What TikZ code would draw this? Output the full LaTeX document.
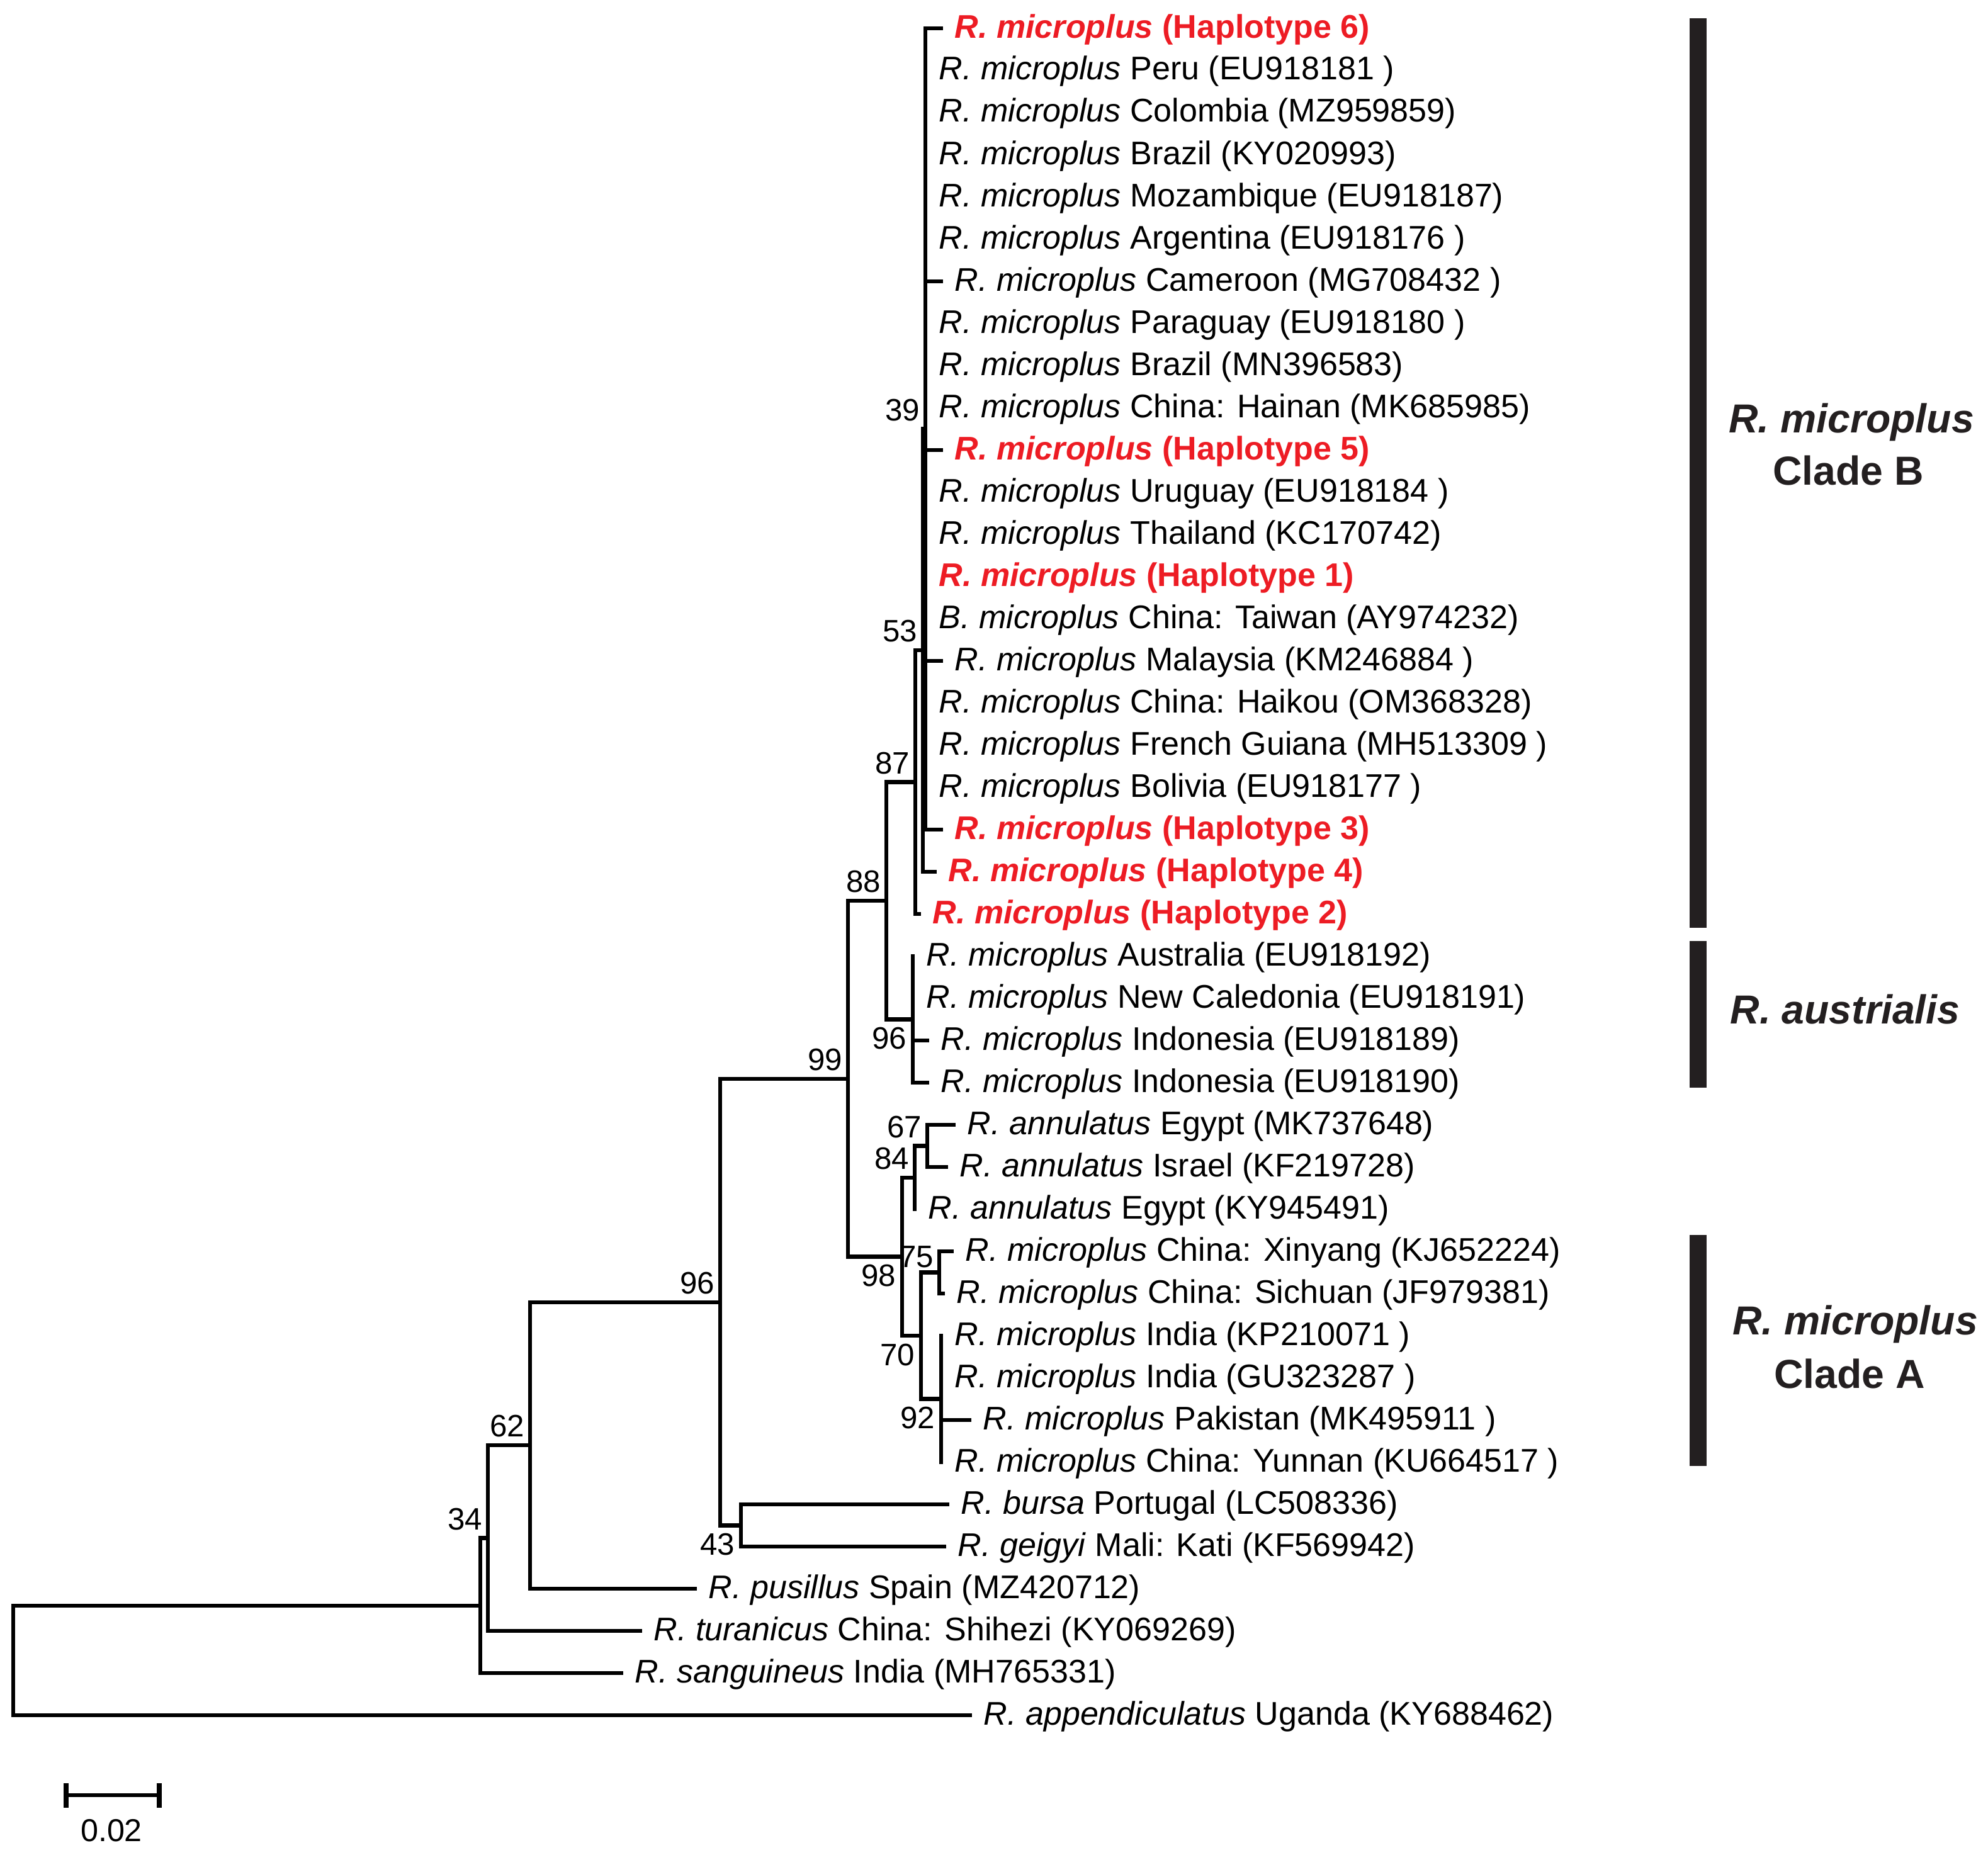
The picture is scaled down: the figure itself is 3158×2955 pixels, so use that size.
\documentclass[tikz,border=0pt]{standalone}
\usepackage{fontspec}
\setmainfont{Liberation Sans}
\usepackage{tikz}
\definecolor{hapred}{RGB}{237,28,36}
\definecolor{bardark}{RGB}{35,31,32}
\newcommand{\taxa}[2]{\textit{#1} #2}
\newcommand{\hap}[1]{\textcolor{hapred}{\bfseries\textit{R. microplus} (Haplotype #1)}}
\tikzset{
  branch/.style={line width=1.8pt, line cap=rect},
  leaf/.style={anchor=base west, inner sep=0pt, xshift=0.21cm, yshift=-0.15cm, font=\fontsize{14.8}{17}\selectfont},
  boot/.style={inner sep=0pt, font=\fontsize{14}{16}\selectfont},
  bsup/.style={boot, anchor=south east, xshift=-0.08cm, yshift=0.12cm},
  bsdown/.style={boot, anchor=north east, xshift=-0.09cm, yshift=-0.12cm},
  cladelab/.style={anchor=base, inner sep=0pt, text=bardark, font=\fontsize{18.3}{22}\selectfont\bfseries}
}

\begin{document}
\begin{tikzpicture}[x=0.01cm, y=-0.01cm]
			%%%%% START %%%%%
			\useasboundingbox (0,0) rectangle (3158,2955);
			
			% internal nodes
			\coordinate (n39) at (1470,681.5);
			\coordinate (n53) at (1466,1033);
			\coordinate (n87) at (1454,1242.5);
			\coordinate (n96a) at (1450,1619.5);
			\coordinate (n88) at (1408,1431);
			\coordinate (n67) at (1473,1820.5);
			\coordinate (n84) at (1453,1871);
			\coordinate (n75) at (1492,2021.5);
			\coordinate (n92) at (1495,2222.5);
			\coordinate (n70) at (1463,2122);
			\coordinate (n98) at (1433,1996.5);
			\coordinate (n99) at (1347,1714);
			\coordinate (n43) at (1177,2423.5);
			\coordinate (n96) at (1144,2068.75);
			\coordinate (n62) at (842,2296);
			\coordinate (n34) at (775,2443.5);
			\coordinate (nr) at (763,2551);
			\coordinate (root) at (21,2638);
			
			% branch ends
			\coordinate (l0) at (1495,45);
			\coordinate (l1) at (1470,112);
			\coordinate (l2) at (1470,179);
			\coordinate (l3) at (1470,246);
			\coordinate (l4) at (1470,313);
			\coordinate (l5) at (1470,380);
			\coordinate (l6) at (1495,447);
			\coordinate (l7) at (1470,514);
			\coordinate (l8) at (1470,581);
			\coordinate (l9) at (1470,648);
			\coordinate (l10) at (1495,715);
			\coordinate (l11) at (1470,782);
			\coordinate (l12) at (1470,849);
			\coordinate (l13) at (1470,916);
			\coordinate (l14) at (1470,983);
			\coordinate (l15) at (1495,1050);
			\coordinate (l16) at (1470,1117);
			\coordinate (l17) at (1470,1184);
			\coordinate (l18) at (1470,1251);
			\coordinate (l19) at (1495,1318);
			\coordinate (l20) at (1485,1385);
			\coordinate (l21) at (1460,1452);
			\coordinate (l22) at (1450,1519);
			\coordinate (l23) at (1450,1586);
			\coordinate (l24) at (1473,1653);
			\coordinate (l25) at (1473,1720);
			\coordinate (l26) at (1515,1787);
			\coordinate (l27) at (1503,1854);
			\coordinate (l28) at (1453,1921);
			\coordinate (l29) at (1512,1988);
			\coordinate (l30) at (1498,2055);
			\coordinate (l31) at (1495,2122);
			\coordinate (l32) at (1495,2189);
			\coordinate (l33) at (1540,2256);
			\coordinate (l34) at (1495,2323);
			\coordinate (l35) at (1505,2390);
			\coordinate (l36) at (1500,2457);
			\coordinate (l37) at (1104,2524);
			\coordinate (l38) at (1017,2591);
			\coordinate (l39) at (987,2658);
			\coordinate (l40) at (1541,2725);
			
			% branches
			\draw[branch] (n39) |- (l0) (n39) |- (l1) (n39) |- (l2) (n39) |- (l3) (n39) |- (l4)
			  (n39) |- (l5) (n39) |- (l6) (n39) |- (l7) (n39) |- (l8) (n39) |- (l9)
			  (n39) |- (l10) (n39) |- (l11) (n39) |- (l12) (n39) |- (l13) (n39) |- (l14)
			  (n39) |- (l15) (n39) |- (l16) (n39) |- (l17) (n39) |- (l18) (n39) |- (l19);
			\draw[branch] (n53) |- (n39) (n53) |- (l20);
			\draw[branch] (n87) |- (n53) (n87) |- (l21);
			\draw[branch] (n96a) |- (l22) (n96a) |- (l23) (n96a) |- (l24) (n96a) |- (l25);
			\draw[branch] (n88) |- (n87) (n88) |- (n96a);
			\draw[branch] (n67) |- (l26) (n67) |- (l27);
			\draw[branch] (n84) |- (n67) (n84) |- (l28);
			\draw[branch] (n75) |- (l29) (n75) |- (l30);
			\draw[branch] (n92) |- (l31) (n92) |- (l32) (n92) |- (l33) (n92) |- (l34);
			\draw[branch] (n70) |- (n75) (n70) |- (n92);
			\draw[branch] (n98) |- (n84) (n98) |- (n70);
			\draw[branch] (n99) |- (n88) (n99) |- (n98);
			\draw[branch] (n43) |- (l35) (n43) |- (l36);
			\draw[branch] (n96) |- (n99) (n96) |- (n43);
			\draw[branch] (n62) |- (n96) (n62) |- (l37);
			\draw[branch] (n34) |- (n62) (n34) |- (l38);
			\draw[branch] (nr) |- (n34) (nr) |- (l39);
			\draw[branch] (root) |- (nr) (root) |- (l40);
			
			% bootstrap values
			\node[bsup] (b39) at (n39) {39};
			\node[bsup] (b53) at (n53) {53};
			\node[bsup] (b87) at (n87) {87};
			\node[bsup] (b88) at (n88) {88};
			\node[bsdown] (b96a) at (n96a) {96};
			\node[bsup] (b99) at (n99) {99};
			\node[bsup] (b67) at (n67) {67};
			\node[bsup] (b84) at (n84) {84};
			\node[bsdown] (b98) at (n98) {98};
			\node[bsup, yshift=-0.05cm] (b75) at (n75) {75};
			\node[bsdown] (b70) at (n70) {70};
			\node[bsdown] (b92) at (n92) {92};
			\node[bsup] (b96) at (n96) {96};
			\node[bsdown] (b43) at (n43) {43};
			\node[bsup] (b62) at (n62) {62};
			\node[bsup] (b34) at (n34) {34};
			
			% taxa
			\node[leaf] (t0) at (l0) {\hap{6}};
			\node[leaf] (t1) at (l1) {\taxa{R. microplus}{Peru (EU918181 )}};
			\node[leaf] (t2) at (l2) {\taxa{R. microplus}{Colombia (MZ959859)}};
			\node[leaf] (t3) at (l3) {\taxa{R. microplus}{Brazil (KY020993)}};
			\node[leaf] (t4) at (l4) {\taxa{R. microplus}{Mozambique (EU918187)}};
			\node[leaf] (t5) at (l5) {\taxa{R. microplus}{Argentina (EU918176 )}};
			\node[leaf] (t6) at (l6) {\taxa{R. microplus}{Cameroon (MG708432 )}};
			\node[leaf] (t7) at (l7) {\taxa{R. microplus}{Paraguay (EU918180 )}};
			\node[leaf] (t8) at (l8) {\taxa{R. microplus}{Brazil (MN396583)}};
			\node[leaf] (t9) at (l9) {\taxa{R. microplus}{China: Hainan (MK685985)}};
			\node[leaf] (t10) at (l10) {\hap{5}};
			\node[leaf] (t11) at (l11) {\taxa{R. microplus}{Uruguay (EU918184 )}};
			\node[leaf] (t12) at (l12) {\taxa{R. microplus}{Thailand (KC170742)}};
			\node[leaf] (t13) at (l13) {\hap{1}};
			\node[leaf] (t14) at (l14) {\taxa{B. microplus}{China: Taiwan (AY974232)}};
			\node[leaf] (t15) at (l15) {\taxa{R. microplus}{Malaysia (KM246884 )}};
			\node[leaf] (t16) at (l16) {\taxa{R. microplus}{China: Haikou (OM368328)}};
			\node[leaf] (t17) at (l17) {\taxa{R. microplus}{French Guiana (MH513309 )}};
			\node[leaf] (t18) at (l18) {\taxa{R. microplus}{Bolivia (EU918177 )}};
			\node[leaf] (t19) at (l19) {\hap{3}};
			\node[leaf] (t20) at (l20) {\hap{4}};
			\node[leaf] (t21) at (l21) {\hap{2}};
			\node[leaf] (t22) at (l22) {\taxa{R. microplus}{Australia (EU918192)}};
			\node[leaf] (t23) at (l23) {\taxa{R. microplus}{New Caledonia (EU918191)}};
			\node[leaf] (t24) at (l24) {\taxa{R. microplus}{Indonesia (EU918189)}};
			\node[leaf] (t25) at (l25) {\taxa{R. microplus}{Indonesia (EU918190)}};
			\node[leaf] (t26) at (l26) {\taxa{R. annulatus}{Egypt (MK737648)}};
			\node[leaf] (t27) at (l27) {\taxa{R. annulatus}{Israel (KF219728)}};
			\node[leaf] (t28) at (l28) {\taxa{R. annulatus}{Egypt (KY945491)}};
			\node[leaf] (t29) at (l29) {\taxa{R. microplus}{China: Xinyang (KJ652224)}};
			\node[leaf] (t30) at (l30) {\taxa{R. microplus}{China: Sichuan (JF979381)}};
			\node[leaf] (t31) at (l31) {\taxa{R. microplus}{India (KP210071 )}};
			\node[leaf] (t32) at (l32) {\taxa{R. microplus}{India (GU323287 )}};
			\node[leaf] (t33) at (l33) {\taxa{R. microplus}{Pakistan (MK495911 )}};
			\node[leaf] (t34) at (l34) {\taxa{R. microplus}{China: Yunnan (KU664517 )}};
			\node[leaf] (t35) at (l35) {\taxa{R. bursa}{Portugal (LC508336)}};
			\node[leaf] (t36) at (l36) {\taxa{R. geigyi}{Mali: Kati (KF569942)}};
			\node[leaf] (t37) at (l37) {\taxa{R. pusillus}{Spain (MZ420712)}};
			\node[leaf] (t38) at (l38) {\taxa{R. turanicus}{China: Shihezi (KY069269)}};
			\node[leaf] (t39) at (l39) {\taxa{R. sanguineus}{India (MH765331)}};
			\node[leaf] (t40) at (l40) {\taxa{R. appendiculatus}{Uganda (KY688462)}};
			
			% clade bars
			\fill[bardark] (2684,29) rectangle (2711,1474);
			\fill[bardark] (2684,1495) rectangle (2711,1728);
			\fill[bardark] (2684,1962) rectangle (2711,2329);
			
			\node[cladelab] (cb1) at (2941,688) {\itshape R. microplus};
			\node[cladelab] (cb2) at (2936,770) {Clade B};
			\node[cladelab] (ca0) at (2931,1626) {\itshape R. austrialis};
			\node[cladelab] (ca1) at (2947,2120) {\itshape R. microplus};
			\node[cladelab] (ca2) at (2938,2205) {Clade A};
			
			% scale bar
			\coordinate (sbl) at (105,2852);
			\coordinate (sbr) at (253,2852);
			\draw[branch] (sbl) -- (sbr);
			\draw[line width=2.2pt] (sbl) ++(0,-19) -- ++(0,39);
			\draw[line width=2.2pt] (sbr) ++(0,-19) -- ++(0,39);
			\node[font=\fontsize{14.3}{17}\selectfont, inner sep=0pt] (sblab) at (177,2908) {0.02};
			
			%%%%% END %%%%%
\end{tikzpicture}
\end{document}
